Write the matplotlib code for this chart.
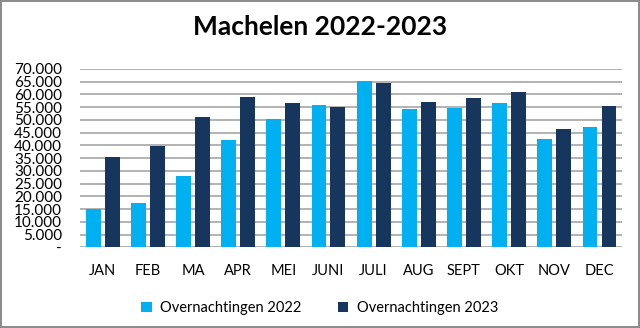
import matplotlib.pyplot as plt
import numpy as np
from matplotlib.ticker import FuncFormatter

plt.rcParams['font.family'] = ['Lato', 'DejaVu Sans']

# maanden en overnachtingen
maanden = ["JAN", "FEB", "MA", "APR", "MEI", "JUNI", "JULI", "AUG", "SEPT", "OKT", "NOV", "DEC"]
overn_2022 = [15000, 17300, 27900, 42000, 50500, 55800, 65100, 54400, 54700, 56600, 42300, 47200]
overn_2023 = [35400, 39800, 51100, 59100, 56700, 55200, 64600, 57000, 58600, 60800, 46500, 55300]

fig = plt.figure(figsize=(6.4, 3.28), dpi=100)
fig.patch.set_edgecolor('#8c8c8c')
fig.patch.set_linewidth(1.5)
ax = fig.add_axes([0.125, 0.246, 0.847, 0.544])

x = np.arange(len(maanden))
w = 0.33
ax.bar(x - 0.21, overn_2022, w, color='#00B0F0', label='Overnachtingen 2022', zorder=3)
ax.bar(x + 0.21, overn_2023, w, color='#17365D', label='Overnachtingen 2023', zorder=3)

ax.set_xlim(-0.5, len(maanden) - 0.5)
ax.set_ylim(0, 70000)
ax.set_yticks(np.arange(0, 70001, 5000))


def fmt(v, pos):
    if v == 0:
        return '-'
    return f"{int(v):,}".replace(',', '.')


ax.yaxis.set_major_formatter(FuncFormatter(fmt))
ax.set_xticks(x)
ax.set_xticklabels(maanden)
ax.tick_params(axis='x', length=0, labelsize=10.5, pad=12)
ax.tick_params(axis='y', length=0, labelsize=11, pad=13)
ax.grid(axis='y', color='#a6a6a6', linewidth=1.2, zorder=0)
for s in ax.spines.values():
    s.set_visible(False)

fig.suptitle("Machelen 2022-2023", fontsize=19, fontweight='bold', y=0.955)
fig.legend(loc='lower center', bbox_to_anchor=(0.5, 0.0), ncol=2, frameon=False,
           fontsize=10.5, handlelength=0.7, handleheight=0.7, columnspacing=2.5,
           handletextpad=0.6)

plt.savefig('out.png', dpi=100)
